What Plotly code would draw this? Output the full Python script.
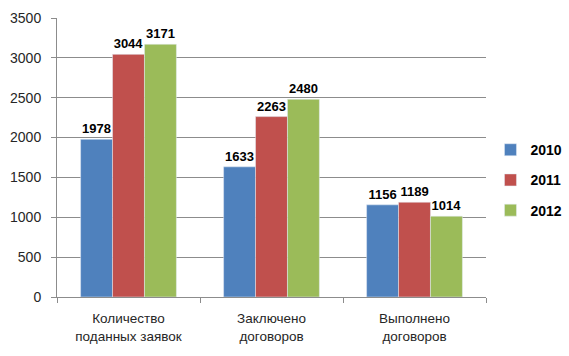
import plotly.graph_objects as go

categories = ["Количество<br>поданных заявок", "Заключено<br>договоров", "Выполнено<br>договоров"]
years = ["2010", "2011", "2012"]
values_2010 = [1978, 1633, 1156]
values_2011 = [3044, 2263, 1189]
values_2012 = [3171, 2480, 1014]
colors = ["#4F81BD", "#C0504D", "#9BBB59"]
y_ticks = [0, 500, 1000, 1500, 2000, 2500, 3000, 3500]

fig = go.Figure()
for name, vals, col in zip(years, [values_2010, values_2011, values_2012], colors):
    fig.add_trace(go.Bar(
        x=categories, y=vals, name=name, marker_color=col, legendgroup=name,
        text=[str(v) for v in vals], textposition="outside",
        textfont=dict(family="Liberation Sans", size=13, color="black", weight="bold"),
        constraintext="none", cliponaxis=False,
    ))

fig.update_layout(
    width=569, height=356,
    margin=dict(l=57, r=83, t=18, b=59),
    paper_bgcolor="white", plot_bgcolor="white",
    barmode="group", bargap=0.33, bargroupgap=0,
    font=dict(family="Liberation Sans", size=13, color="#262626"),
    legend=dict(xref="container", yref="container", x=0.862, y=0.494,
                xanchor="left", yanchor="middle",
                font=dict(size=14, color="black", weight="bold"),
                itemwidth=30, tracegroupgap=9),
    showlegend=True,
)
fig.update_yaxes(range=[0, 3500], tickvals=y_ticks, showgrid=True, gridcolor="#8c8c8c",
                 showline=True, linecolor="#8c8c8c", ticks="outside", ticklen=5,
                 tickcolor="#8c8c8c", zeroline=False, automargin=False,
                 ticklabelstandoff=7, tickfont=dict(size=14, color="#262626"))
fig.update_xaxes(showline=True, linecolor="#8c8c8c", ticks="outside", ticklen=5,
                 tickcolor="#8c8c8c", tickson="boundaries", automargin=False,
                 ticklabelstandoff=9, tickfont=dict(size=13.5, color="#262626"))

fig.write_html("out.html", config={"displayModeBar": False},
               post_script="document.body.style.margin='0';")
